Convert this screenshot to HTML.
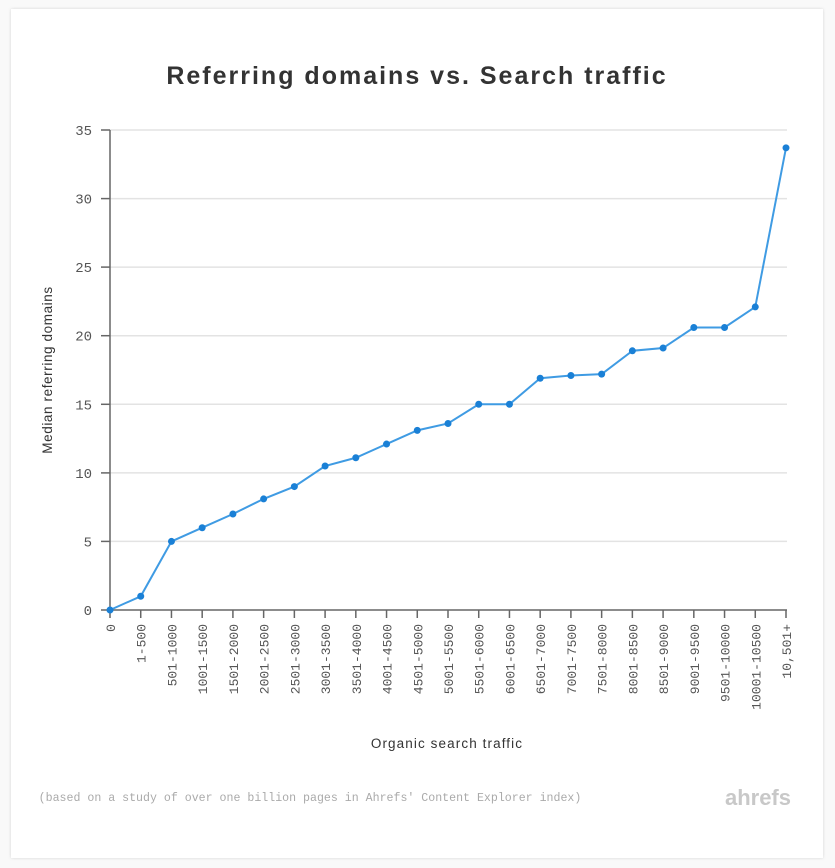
<!DOCTYPE html>
<html><head><style>
html,body{margin:0;padding:0;background:#f9f9f9;}
.card{position:absolute;left:11px;top:9px;width:812px;height:849px;background:#fff;box-shadow:0 0 3px rgba(0,0,0,0.15);}
svg{position:absolute;left:0;top:0;}
text{font-family:"Liberation Sans","DejaVu Sans",sans-serif;}
.m{font-family:"Liberation Mono","DejaVu Sans Mono",monospace;}
</style></head><body>
<div class="card"></div>
<svg width="835" height="868" xmlns="http://www.w3.org/2000/svg">
<text x="417" y="84" text-anchor="middle" font-size="25" font-weight="bold" fill="#333" letter-spacing="2">Referring domains vs. Search traffic</text>
<g stroke="#e3e3e3" stroke-width="1.5">
<line x1="110" x2="787" y1="130" y2="130"/><line x1="110" x2="787" y1="198.6" y2="198.6"/><line x1="110" x2="787" y1="267.1" y2="267.1"/><line x1="110" x2="787" y1="335.7" y2="335.7"/><line x1="110" x2="787" y1="404.3" y2="404.3"/><line x1="110" x2="787" y1="472.9" y2="472.9"/><line x1="110" x2="787" y1="541.4" y2="541.4"/>
</g>
<g stroke="#666" stroke-width="1.5">
<line x1="110" x2="110" y1="130" y2="610"/><line x1="110" x2="787" y1="610" y2="610"/>
<line x1="101" x2="110" y1="130" y2="130"/><line x1="101" x2="110" y1="198.6" y2="198.6"/><line x1="101" x2="110" y1="267.1" y2="267.1"/><line x1="101" x2="110" y1="335.7" y2="335.7"/><line x1="101" x2="110" y1="404.3" y2="404.3"/><line x1="101" x2="110" y1="472.9" y2="472.9"/><line x1="101" x2="110" y1="541.4" y2="541.4"/><line x1="101" x2="110" y1="610" y2="610"/>
</g>
<g font-size="14" fill="#555" text-anchor="end" class="m">
<text class="m" x="92" y="135">35</text><text class="m" x="92" y="203.6">30</text><text class="m" x="92" y="272.1">25</text><text class="m" x="92" y="340.7">20</text><text class="m" x="92" y="409.3">15</text><text class="m" x="92" y="477.9">10</text><text class="m" x="92" y="546.4">5</text><text class="m" x="92" y="615">0</text>
</g>
<text transform="translate(52,370) rotate(-90)" text-anchor="middle" font-size="13.5" fill="#333" letter-spacing="0.6">Median referring domains</text>
<text x="447" y="748" text-anchor="middle" font-size="13.5" fill="#333" letter-spacing="1.1">Organic search traffic</text>
<g id="xt" stroke="#666" stroke-width="1.5"></g>
<g id="xl" font-size="13" fill="#555" text-anchor="end"></g>
<polyline id="ln" fill="none" stroke="#3f9be3" stroke-width="2"/>
<g id="pts" fill="#1a80d6"></g>
<text class="m" x="310" y="801" text-anchor="middle" font-size="11.6" fill="#aaa">(based on a study of over one billion pages in Ahrefs' Content Explorer index)</text>
<text x="791" y="805" text-anchor="end" font-size="22" font-weight="bold" fill="#c8c8c8">ahrefs</text>
</svg>
<script>
var labs=["0","1-500","501-1000","1001-1500","1501-2000","2001-2500","2501-3000","3001-3500","3501-4000","4001-4500","4501-5000","5001-5500","5501-6000","6001-6500","6501-7000","7001-7500","7501-8000","8001-8500","8501-9000","9001-9500","9501-10000","10001-10500","10,501+"];
var d=[0,1,5,6,7,8.1,9,10.5,11.1,12.1,13.1,13.6,15,15,16.9,17.1,17.2,18.9,19.1,20.6,20.6,22.1,33.7];
var ns="http://www.w3.org/2000/svg",xt=document.getElementById('xt'),xl=document.getElementById('xl'),pts=document.getElementById('pts'),p=[];
for(var i=0;i<23;i++){var x=110+i*676/22,y=610-d[i]*480/35;p.push(x+','+y);
var l=document.createElementNS(ns,'line');l.setAttribute('x1',x);l.setAttribute('x2',x);l.setAttribute('y1',610);l.setAttribute('y2',618);xt.appendChild(l);
var t=document.createElementNS(ns,'text');t.setAttribute('class','m');t.setAttribute('transform','translate('+(x+5)+',624) rotate(-90)');t.textContent=labs[i];xl.appendChild(t);
var c=document.createElementNS(ns,'circle');c.setAttribute('cx',x);c.setAttribute('cy',y);c.setAttribute('r',3.5);pts.appendChild(c);}
document.getElementById('ln').setAttribute('points',p.join(' '));
</script>
</body></html>
